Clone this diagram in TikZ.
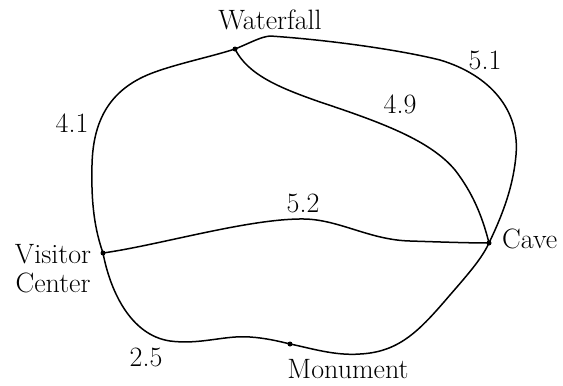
\documentclass[tikz,border=0pt]{standalone}
\begin{document}
\begin{tikzpicture}[x=1pt,y=-1pt,
  dot/.style={circle,fill,inner sep=0pt,minimum size=5pt},
  lbl/.style={font=\fontsize{28}{32}\selectfont,inner sep=0pt},
  road/.style={line width=1.5pt,line cap=round,line join=round}]
\useasboundingbox (0,0) rectangle (563,386);
\node[dot] (wf) at (235,49) {};
\node[dot] (cave) at (489,243) {};
\node[dot] (vc) at (103,253) {};
\node[dot] (mon) at (290,344) {};
% labels
\node[lbl,anchor=base] (lwf) at (270,29) {Waterfall};
\node[lbl,anchor=base west] (lcave) at (502,248) {Cave};
\node[lbl,anchor=base] (lvis) at (53,263) {Visitor};
\node[lbl,anchor=base] (lcen) at (53,292) {Center};
\node[lbl,anchor=base] (lmon) at (348,378) {Monument};
\node[lbl,anchor=base] (l51) at (485,69) {5.1};
\node[lbl,anchor=base] (l49) at (400,113) {4.9};
\node[lbl,anchor=base] (l41) at (72,132) {4.1};
\node[lbl,anchor=base] (l52) at (303,212) {5.2};
\node[lbl,anchor=base] (l25) at (146,366) {2.5};
% roads
\draw[road] (wf.center) .. controls (250,43) and (260,37) .. (270,36)
  .. controls (330,40) and (400,50) .. (440,60)
  .. controls (490,75) and (520,110) .. (516,155)
  .. controls (513,190) and (500,220) .. (cave.center);
\draw[road] (wf.center) .. controls (248,75) and (280,88) .. (320,102)
  .. controls (380,122) and (430,140) .. (455,170)
  .. controls (472,192) and (482,215) .. (cave.center);
\draw[road] (wf.center) .. controls (210,57) and (180,63) .. (155,72)
  .. controls (110,88) and (93,120) .. (92,165)
  .. controls (91,205) and (95,230) .. (vc.center);
\draw[road] (vc.center) .. controls (160,245) and (250,218) .. (305,219)
  .. controls (340,220) and (370,240) .. (410,241)
  .. controls (440,242) and (470,243) .. (cave.center);
\draw[road] (vc.center) .. controls (110,290) and (130,335) .. (170,341)
  .. controls (200,345) and (225,335) .. (250,337)
  .. controls (265,338) and (278,341) .. (mon.center)
  .. controls (310,348) and (335,356) .. (360,354)
  .. controls (400,352) and (420,330) .. (450,295)
  .. controls (470,272) and (482,258) .. (cave.center);
\end{tikzpicture}
\end{document}
